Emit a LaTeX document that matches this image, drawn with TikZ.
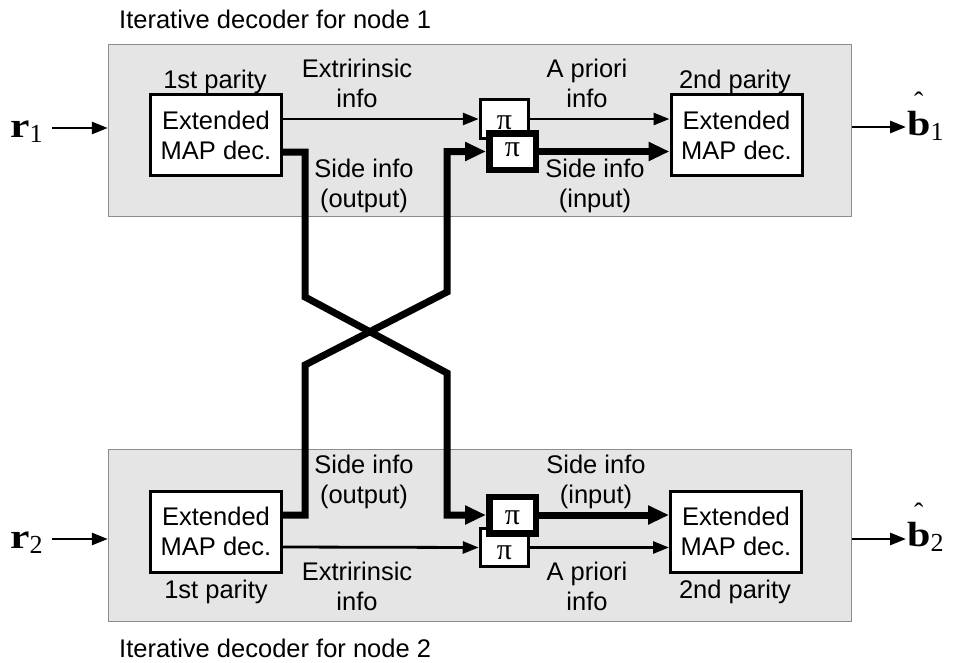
\documentclass[tikz,border=0pt]{standalone}
\usepackage{fontspec}
\usepackage{graphicx}
\setmainfont{Liberation Sans}
\newfontfamily\timesfont{Liberation Serif}
\usetikzlibrary{arrows.meta}

% bold serif vector symbol with a subscript
\newcommand\vecsym[2]{{\timesfont\fontsize{35}{35}\selectfont
  \scalebox{1.25}[1]{\bfseries #1}\raisebox{-5pt}{\fontsize{26}{26}\selectfont #2}}}
% same, with a small hat above the letter
\newcommand\hatsym[2]{{\timesfont\fontsize{35}{35}\selectfont
  \ooalign{\scalebox{1.2}[1]{\bfseries #1}\cr
    \hidewidth\raisebox{24pt}{\fontsize{28}{28}\selectfont ˆ}\hidewidth\cr}%
  \raisebox{-5pt}{\fontsize{26}{26}\selectfont #2}}}
% interleaver symbol, shifted by #1 from the node centre
\newcommand\perm[1]{\raisebox{#1}[0pt][0pt]{\timesfont\fontsize{30}{30}\selectfont π}}

\begin{document}
\begin{tikzpicture}[x=1pt,y=-1pt,
  font=\fontsize{25.5}{30}\selectfont,
  panel/.style={draw=black!45, fill=black!10, line width=1.4pt,
    minimum width=743pt, minimum height=172pt, inner sep=0pt},
  decoder/.style={draw, fill=white, line width=3pt, align=center,
    minimum width=131pt, minimum height=81pt, inner sep=0pt},
  permthin/.style={draw, fill=white, line width=3pt,
    minimum width=48.5pt, minimum height=38.5pt, inner sep=0pt},
  permthick/.style={draw, fill=white, line width=6.5pt,
    minimum width=46.5pt, minimum height=36.5pt, inner sep=0pt},
  lbl/.style={align=center, inner sep=0pt},
  thinarrow/.style={line width=2.8pt, -{Triangle[length=16pt,width=12pt]}},
  thickarrow/.style={line width=7pt, -{Triangle[length=21pt,width=18pt]}},
]
\useasboundingbox (0,0) rectangle (954,662);

% ---------------- panels and titles ----------------
\node[panel] (P1) at (480,130.5) {};
\node[panel] (P2) at (480,535.5) {};
\node[anchor=base west, inner sep=0pt] (t1) at (119,28) {Iterative decoder for node 1};
\node[anchor=base west, inner sep=0pt] (t2) at (119,657) {Iterative decoder for node 2};

% ---------------- decoders ----------------
\node[decoder] (d1a) at (216,135) {Extended\\MAP dec.};
\node[decoder] (d1b) at (736.5,135) {Extended\\MAP dec.};
\node[decoder] (d2a) at (216,531.5) {Extended\\MAP dec.};
\node[decoder] (d2b) at (736,531.5) {Extended\\MAP dec.};

% ---------------- interleavers ----------------
\node[permthin] (p1a) at (504.5,119) {\perm{-10pt}};
\node[permthick] (p1b) at (512.5,151.5) {\perm{-5pt}};
\node[permthin] (p2a) at (504.5,547.5) {\perm{-11.5pt}};
\node[permthick] (p2b) at (512.5,515) {\perm{-9pt}};

% ---------------- labels ----------------
\node[lbl, anchor=base] (n1a) at (215,88) {1st parity};
\node[lbl, anchor=base] (n1b) at (735,88) {2nd parity};
\node[lbl] (e1) at (357,83.5) {Extririnsic\\info};
\node[lbl] (a1) at (587,83.5) {A priori\\info};
\node[lbl] (so1) at (364,185.5) {Side info\\(output)};
\node[lbl] (si1) at (595,185.5) {Side info\\(input)};

\node[lbl, anchor=base] (n2a) at (216,598) {1st parity};
\node[lbl, anchor=base] (n2b) at (735,598) {2nd parity};
\node[lbl] (e2) at (357,586) {Extririnsic\\info};
\node[lbl] (a2) at (587,586) {A priori\\info};
\node[lbl] (so2) at (364,481.5) {Side info\\(output)};
\node[lbl] (si2) at (596,481.5) {Side info\\(input)};

% ---------------- inputs and outputs ----------------
\node[anchor=base west, inner sep=0pt] (r1) at (10,137) {\vecsym{r}{1}};
\node[anchor=base west, inner sep=0pt] (r2) at (10,548) {\vecsym{r}{2}};
\node[anchor=base west, inner sep=0pt] (b1) at (907,135) {\hatsym{b}{1}};
\node[anchor=base west, inner sep=0pt] (b2) at (907,546) {\hatsym{b}{2}};

\coordinate (r1s) at (52,128);
\coordinate (r2s) at (52,539);
\coordinate (b1e) at (906,127);
\coordinate (b2e) at (906,539);
\draw[thinarrow] (r1s) -- (r1s -| P1.west);
\draw[thinarrow] (r2s) -- (r2s -| P2.west);
\draw[thinarrow] (P1.east |- b1e) -- (b1e);
\draw[thinarrow] (P2.east |- b2e) -- (b2e);

% ---------------- extrinsic / a priori paths ----------------
\draw[thinarrow] ([yshift=16pt]d1a.east) -- (p1a.west);
\draw[thinarrow] (p1a.east) -- (d1b.west |- p1a.east);
\draw[thinarrow] ([yshift=-15.5pt]d2a.east) -- (p2a.west);
\draw[thinarrow] (p2a.east) -- (d2b.west |- p2a.east);

% ---------------- side information exchange ----------------
\coordinate (xa1) at (305,297);
\coordinate (xa2) at (447,373);
\coordinate (xb1) at (305,365);
\coordinate (xb2) at (447,292);
\draw[thickarrow] ([yshift=-17pt]d1a.east) -| (xa1) -- (xa2) |- (p2b.west);
\draw[thickarrow] ([yshift=16.5pt]d2a.east) -| (xb1) -- (xb2) |- (p1b.west);
\draw[thickarrow] (p1b.east) -- (d1b.west |- p1b.east);
\draw[thickarrow] (p2b.east) -- (d2b.west |- p2b.east);
\end{tikzpicture}
\end{document}
